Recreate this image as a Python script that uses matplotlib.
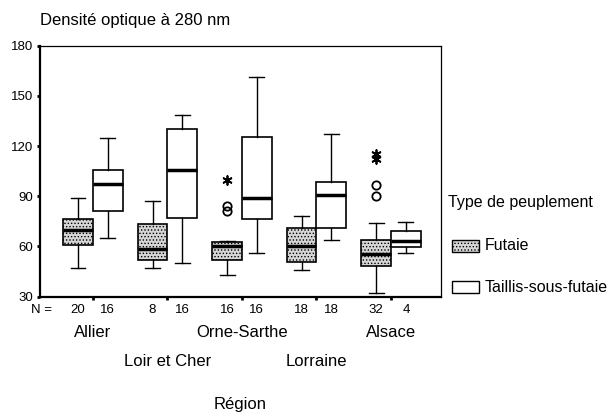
import matplotlib.pyplot as plt
import numpy as np
from matplotlib.patches import Rectangle

plt.rcParams['font.family'] = ['Liberation Sans', 'DejaVu Sans']
plt.rcParams['hatch.linewidth'] = 0.6

regions = ['Allier', 'Loir et Cher', 'Orne-Sarthe', 'Lorraine', 'Alsace']
types = ['Futaie', 'Taillis-sous-futaie']

# box statistics per region, one list per stand type
fut_lo = [47, 47, 43, 46, 32]
fut_q1 = [61, 52, 52, 51, 48.5]
fut_med = [70, 58.5, 60, 60.5, 55.5]
fut_q3 = [76.5, 73.5, 62.5, 71, 64]
fut_hi = [89, 87, 63.5, 78.5, 74]
fut_n = [20, 8, 16, 18, 32]

tsf_lo = [65, 50, 56, 64, 56]
tsf_q1 = [81, 77, 76.5, 71, 59.5]
tsf_med = [97.5, 105.5, 89, 90.5, 63]
tsf_q3 = [105.5, 130, 125.5, 98.5, 69.5]
tsf_hi = [125, 138.5, 161.5, 127.5, 74.5]
tsf_n = [16, 16, 16, 18, 4]

# outliers (circles) and extremes (asterisks) for Futaie
fut_outliers = [[], [], [84, 81.5], [], [97, 90]]
fut_extremes = [[], [], [100], [], [115, 112]]

fig = plt.figure(figsize=(6.13, 4.17), dpi=100)
ax = fig.add_axes([0.0653, 0.2885, 0.654, 0.602])

pos = np.arange(1, len(regions) + 1)
off = 0.2
w = 0.4
fut_face = '#d6d6d6'
big = 12
small = 9.5

fut_stats = [dict(whislo=fut_lo[i], q1=fut_q1[i], med=fut_med[i], q3=fut_q3[i],
                  whishi=fut_hi[i], fliers=fut_outliers[i]) for i in range(len(regions))]
tsf_stats = [dict(whislo=tsf_lo[i], q1=tsf_q1[i], med=tsf_med[i], q3=tsf_q3[i],
                  whishi=tsf_hi[i], fliers=[]) for i in range(len(regions))]

common = dict(widths=w, patch_artist=True, showfliers=True,
              medianprops=dict(color='black', linewidth=2.5),
              whiskerprops=dict(color='black', linewidth=1),
              capprops=dict(color='black', linewidth=1),
              flierprops=dict(marker='o', markerfacecolor='none', markeredgecolor='black',
                              markersize=6, markeredgewidth=1.3))

b1 = ax.bxp(fut_stats, positions=pos - off, **common)
for box in b1['boxes']:
    box.set_facecolor(fut_face)
    box.set_edgecolor('black')
    box.set_hatch('.....')
    box.set_linewidth(1.2)

b2 = ax.bxp(tsf_stats, positions=pos + off, **common)
for box in b2['boxes']:
    box.set_facecolor('white')
    box.set_edgecolor('black')
    box.set_linewidth(1.2)

for i, ext in enumerate(fut_extremes):
    if ext:
        ax.scatter([pos[i] - off] * len(ext), ext, marker=(6, 2, 0), s=40,
                   color='black', linewidths=1.3, zorder=4)

ax.set_xlim(0.29, 5.67)
ax.set_ylim(30, 180)
ax.set_yticks([30, 60, 90, 120, 150, 180])
ax.tick_params(axis='y', length=2, width=2, labelsize=small, pad=3)
ax.set_xticks(pos)
ax.set_xticklabels([])
ax.tick_params(axis='x', length=2, width=2)

for side in ['left', 'bottom']:
    ax.spines[side].set_linewidth(1.6)
for side in ['top', 'right']:
    ax.spines[side].set_linewidth(0.9)

# N = row and region names
ax.annotate('N =', (0, 0), xycoords='axes fraction', xytext=(0.7, -9.6),
            textcoords='offset points', ha='center', va='center', fontsize=small)
for i in range(len(regions)):
    ax.annotate(str(fut_n[i]), (pos[i] - off, 0), xycoords=('data', 'axes fraction'),
                xytext=(0, -9.6), textcoords='offset points', ha='center', va='center', fontsize=small)
    ax.annotate(str(tsf_n[i]), (pos[i] + off, 0), xycoords=('data', 'axes fraction'),
                xytext=(0, -9.6), textcoords='offset points', ha='center', va='center', fontsize=small)
    dy = -26 if i % 2 == 0 else -46.3
    ax.annotate(regions[i], (pos[i], 0), xycoords=('data', 'axes fraction'),
                xytext=(0, dy), textcoords='offset points', ha='center', va='center', fontsize=big)

fig.text(240 / 613, 1 - 405 / 417, 'Région', ha='center', va='center', fontsize=big)
fig.text(40 / 613, 1 - 20 / 417, 'Densité optique à 280 nm', ha='left', va='center', fontsize=big)

# legend drawn by hand to match the spacing
fig.text(448 / 613, 1 - 202 / 417, 'Type de peuplement', ha='left', va='center', fontsize=11.5)
legend_y = [246, 287]
for lab, yc, face, hatch in zip(types, legend_y, [fut_face, 'white'], ['.....', None]):
    fig.patches.append(Rectangle((452 / 613, 1 - (yc + 6) / 417), 27 / 613, 12 / 417,
                                 transform=fig.transFigure, facecolor=face, edgecolor='black',
                                 hatch=hatch, linewidth=1))
    fig.text(485 / 613, 1 - yc / 417, lab, ha='left', va='center', fontsize=11.5)

fig.savefig('out.png', dpi=100)
